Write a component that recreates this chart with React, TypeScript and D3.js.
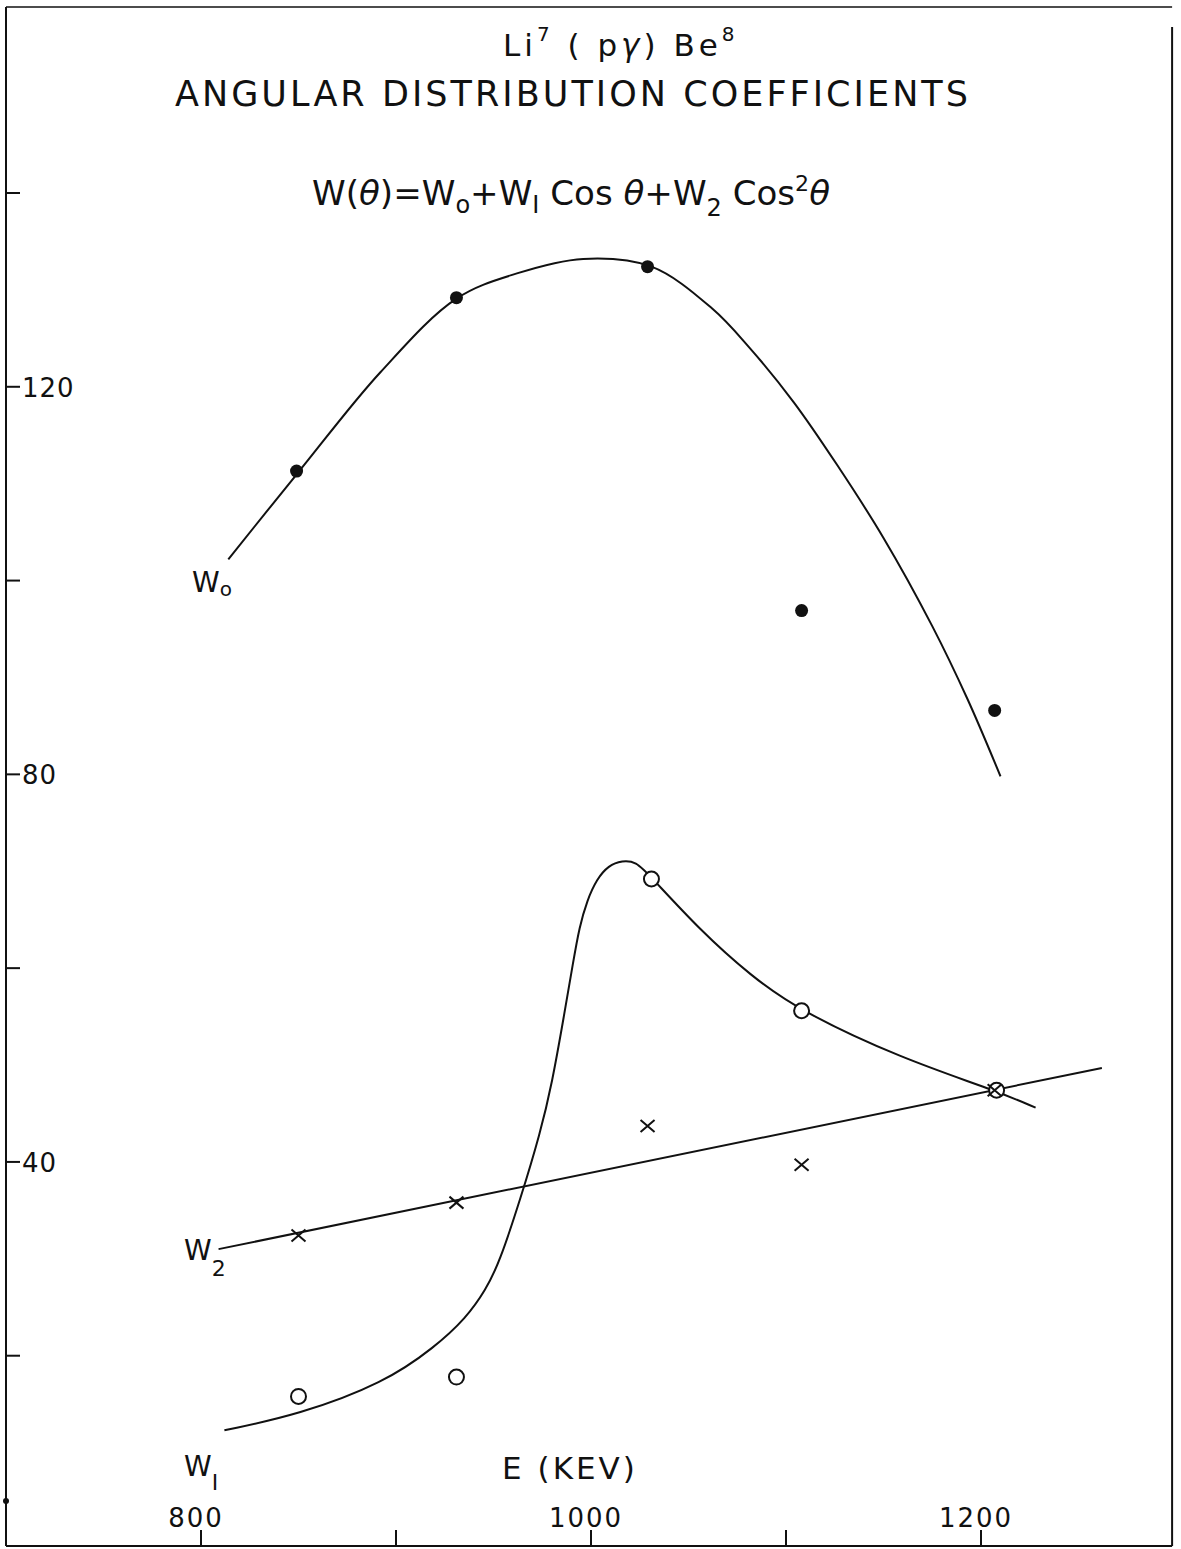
import * as d3 from 'd3';

// measured points (E in keV, coefficient value)
const energyW0 = [849, 931, 1029, 1108, 1207];
const valuesW0 = [111.3, 129.2, 132.4, 96.9, 86.6];
const energyW1 = [850, 931, 1031, 1108, 1208];
const valuesW1 = [15.8, 17.8, 69.2, 55.6, 47.4];
const energyW2 = [850, 931, 1029, 1108, 1207];
const valuesW2 = [32.4, 35.8, 43.7, 39.7, 47.4];

// hand-drawn fitted curves
const curveW0E = [814, 850, 892, 931, 962, 996, 1031, 1062, 1081, 1104, 1126, 1150, 1175, 1193, 1210];
const curveW0V = [102.2, 111.2, 121.5, 129.1, 131.7, 133.2, 132.4, 128.1, 124.1, 118.4, 112.0, 104.4, 95.3, 87.8, 79.8];
const curveW1E = [812, 850, 894, 920, 936, 946, 953, 964, 974, 980, 986, 991, 994, 998, 1003, 1009, 1016, 1023, 1030, 1056, 1082, 1107, 1159, 1207, 1228];
const curveW1V = [12.3, 13.9, 17.2, 20.9, 23.9, 26.8, 29.6, 36.3, 43.0, 48.1, 54.9, 60.8, 64.2, 67.0, 69.2, 70.6, 71.1, 71.0, 69.6, 63.9, 59.2, 55.6, 50.7, 47.4, 45.6];
const lineW2E = [809, 1262];
const lineW2V = [31.0, 49.7];

const xTicks = [800, 900, 1000, 1100, 1200];
const xLabels = [800, 1000, 1200];
const yTicks = [20, 40, 60, 80, 100, 120, 140];
const yLabels = [40, 80, 120];

const W = 1181;
const H = 1549;
const FONT = "'DejaVu Sans', 'Liberation Sans', sans-serif";

export default function App() {
  const x = d3.scaleLinear().domain([800, 1200]).range([201, 981]);
  const y = d3.scaleLinear().domain([0, 140]).range([1549.5, 193]);

  const frameL = x(700);
  const frameR = x(1298);
  const frameT = 7;
  const frameB = 1546;

  const smooth = d3.line<[number, number]>()
    .x(d => x(d[0]))
    .y(d => y(d[1]))
    .curve(d3.curveCatmullRom.alpha(0.5));

  const soft = d3.line<[number, number]>()
    .x(d => x(d[0]))
    .y(d => y(d[1]))
    .curve(d3.curveBasis);

  const straight = d3.line<[number, number]>()
    .x(d => x(d[0]))
    .y(d => y(d[1]));

  const zip = (a: number[], b: number[]) => a.map((v, i) => [v, b[i]] as [number, number]);

  const pts0 = zip(energyW0, valuesW0);
  const pts1 = zip(energyW1, valuesW1);
  const pts2 = zip(energyW2, valuesW2);

  return (
    <svg width={W} height={H} style={{ position: 'absolute', left: 0, top: 0, display: 'block', background: '#fff' }}
      fontFamily={FONT} fill="#111">
      {/* frame */}
      <line x1={frameL} x2={frameR} y1={frameT} y2={frameT} stroke="#111" strokeWidth={1.5} />
      <line x1={frameL} x2={frameL} y1={frameT} y2={frameB} stroke="#111" strokeWidth={2} />
      <line x1={frameR} x2={frameR} y1={frameT + 20} y2={frameB} stroke="#111" strokeWidth={2} />
      <line x1={frameL} x2={frameR} y1={frameB} y2={frameB} stroke="#111" strokeWidth={2} />

      {/* y ticks */}
      {yTicks.map(t => (
        <line key={'yt' + t} x1={frameL} x2={frameL + 14} y1={y(t)} y2={y(t)} stroke="#111" strokeWidth={2} />
      ))}
      {yLabels.map(t => (
        <text key={'yl' + t} x={frameL + 16} y={y(t) + 10} fontSize={26} letterSpacing={1}>{t}</text>
      ))}
      <circle cx={frameL} cy={y(5)} r={3} fill="#111" />

      {/* x ticks */}
      {xTicks.map(t => (
        <line key={'xt' + t} x1={x(t)} x2={x(t)} y1={frameB} y2={frameB - 16} stroke="#111" strokeWidth={2} />
      ))}
      {xLabels.map(t => (
        <text key={'xl' + t} x={x(t) - 5} y={1527} fontSize={26} textAnchor="middle" letterSpacing={2}>{t}</text>
      ))}
      <text x={570} y={1479} fontSize={31} textAnchor="middle" letterSpacing={3}>E (KEV)</text>

      {/* titles */}
      <text x={503} y={56} fontSize={31} letterSpacing={4}>
        <tspan>Li</tspan>
        <tspan dy={-15} fontSize={20}>7</tspan>
        <tspan dy={15}> ( p</tspan>
        <tspan fontStyle="italic">γ</tspan>
        <tspan>) Be</tspan>
        <tspan dy={-15} fontSize={20}>8</tspan>
      </text>
      <text x={175} y={106} fontSize={35} textLength={793} lengthAdjust="spacing">ANGULAR DISTRIBUTION COEFFICIENTS</text>

      <text x={312} y={205} fontSize={34} textLength={518} lengthAdjust="spacingAndGlyphs">
        <tspan>W(</tspan>
        <tspan fontStyle="italic">θ</tspan>
        <tspan>)=W</tspan>
        <tspan dy={8} fontSize={24}>o</tspan>
        <tspan dy={-8}>+W</tspan>
        <tspan dy={8} fontSize={24}>I</tspan>
        <tspan dy={-8}> Cos </tspan>
        <tspan fontStyle="italic">θ</tspan>
        <tspan>+W</tspan>
        <tspan dy={11} fontSize={24}>2</tspan>
        <tspan dy={-11}> Cos</tspan>
        <tspan dy={-14} fontSize={22}>2</tspan>
        <tspan dy={14} fontStyle="italic">θ</tspan>
      </text>

      {/* curves */}
      <path d={smooth(zip(curveW0E, curveW0V)) ?? ''} fill="none" stroke="#111" strokeWidth={2} />
      <path d={soft(zip(curveW1E, curveW1V)) ?? ''} fill="none" stroke="#111" strokeWidth={2} />
      <path d={straight(zip(lineW2E, lineW2V)) ?? ''} fill="none" stroke="#111" strokeWidth={2} />

      {/* W0 points: filled dots */}
      {pts0.map((p, i) => (
        <circle key={'p0' + i} cx={x(p[0])} cy={y(p[1])} r={6.5} fill="#111" />
      ))}
      {/* W1 points: open circles */}
      {pts1.map((p, i) => (
        <circle key={'p1' + i} cx={x(p[0])} cy={y(p[1])} r={7.5} fill="#fff" stroke="#111" strokeWidth={2} />
      ))}
      {/* W2 points: crosses */}
      {pts2.map((p, i) => (
        <path key={'p2' + i}
          d={`M${x(p[0]) - 7},${y(p[1]) - 6}L${x(p[0]) + 7},${y(p[1]) + 6}M${x(p[0]) - 7},${y(p[1]) + 6}L${x(p[0]) + 7},${y(p[1]) - 6}`}
          stroke="#111" strokeWidth={2} fill="none" />
      ))}

      {/* series labels */}
      <text x={192} y={592} fontSize={28}>W<tspan dy={4} fontSize={20}>o</tspan></text>
      <text x={184} y={1260} fontSize={28}>W<tspan dy={16} fontSize={22}>2</tspan></text>
      <text x={184} y={1476} fontSize={28}>W<tspan dy={14} fontSize={22}>I</tspan></text>
    </svg>
  );
}
